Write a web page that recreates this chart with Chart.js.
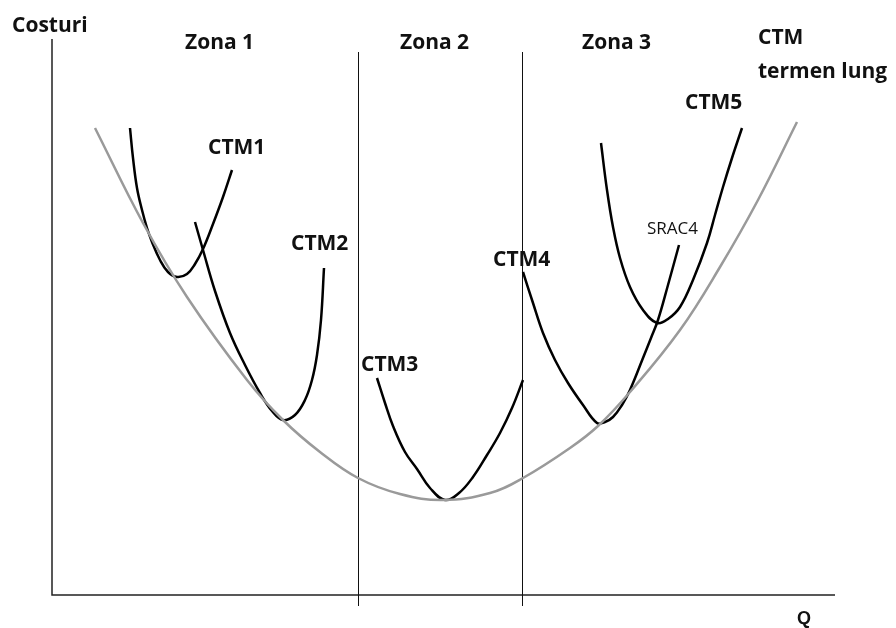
<!DOCTYPE html>
<html>
<head>
<meta charset="utf-8">
<script src="https://cdn.jsdelivr.net/npm/chart.js@4.4.1/dist/chart.umd.min.js"></script>
<style>
  html, body { margin: 0; padding: 0; background: #fff; }
  #wrap { width: 896px; height: 628px; }
</style>
</head>
<body>
<div id="wrap"><canvas id="chart"></canvas></div>
<script>
// Q (quantity) and cost values
var ctmLungQ = [4.3, 9.1, 13.5, 19.5, 23.1, 26.8, 30.6, 34.8, 39.1, 43.8, 47.1, 51.8, 54.6, 57.8, 62.8, 66.8, 70.6, 74.5];
var ctmLungC = [46.7, 37.2, 29.8, 21.5, 17.5, 14.3, 11.7, 10.1, 9.5, 10.2, 11.7, 14.7, 16.9, 20.3, 26.5, 32.8, 39.5, 47.3];

var ctm1Q = [7.8, 8.1, 8.5, 9.0, 9.5, 10.0, 10.8, 11.6, 12.5, 13.5, 14.3, 15.1, 16.1, 17.1, 18.0];
var ctm1C = [46.7, 43.7, 40.7, 38.5, 36.7, 35.3, 33.5, 32.3, 31.8, 32.1, 33.1, 34.6, 37.1, 39.8, 42.5];

var ctm2Q = [14.3, 15.1, 16.3, 17.8, 19.3, 20.8, 22.0, 23.1, 24.3, 25.3, 26.0, 26.5, 26.9, 27.2];
var ctm2C = [37.3, 34.5, 30.4, 26.2, 23.0, 20.2, 18.4, 17.5, 18.0, 19.5, 21.5, 24.0, 27.5, 32.7];

var ctm3Q = [32.5, 33.3, 34.1, 35.3, 36.5, 37.8, 39.3, 40.7, 42.1, 43.5, 44.8, 46.0, 47.1];
var ctm3C = [21.7, 19.2, 16.9, 14.3, 12.6, 10.7, 9.5, 10.2, 11.8, 14.0, 16.2, 18.7, 21.5];

// CTM4 continues upward as SRAC4
var ctm4Q = [47.1, 48.1, 49.1, 50.3, 51.6, 53.1, 54.5, 55.3, 56.1, 57.0, 57.8, 59.1, 59.9, 60.6, 61.6, 62.7];
var ctm4C = [32.3, 29.2, 26.2, 23.5, 21.2, 19.0, 17.2, 17.3, 17.8, 19.0, 20.5, 23.7, 25.7, 27.5, 31.0, 35.0];

var ctm5Q = [54.9, 55.5, 56.1, 56.8, 57.8, 59.1, 60.5, 61.6, 62.8, 64.1, 65.5, 66.3, 67.1, 68.0, 69.0];
var ctm5C = [45.2, 40.5, 36.8, 33.7, 30.8, 28.5, 27.2, 27.6, 28.8, 31.5, 35.2, 38.0, 40.8, 43.7, 46.7];

var zoneBounds = [30.6, 47.0];

function pts(q, c) {
  return q.map(function (v, i) { return { x: v, y: c[i] }; });
}

function curve(q, c, color) {
  return {
    data: pts(q, c),
    borderColor: color,
    borderWidth: 2.5,
    pointRadius: 0,
    fill: false,
    tension: 0.4
  };
}

// axes, zone lines and texts
var decor = {
  id: 'decor',
  beforeDatasetsDraw: function (chart) {
    var ctx = chart.ctx;
    var x = chart.scales.x, y = chart.scales.y;
    ctx.save();
    ctx.strokeStyle = '#222';
    ctx.lineWidth = 1.5;
    ctx.beginPath();
    ctx.moveTo(x.getPixelForValue(0), y.getPixelForValue(55.6));
    ctx.lineTo(x.getPixelForValue(0), y.getPixelForValue(0));
    ctx.lineTo(x.getPixelForValue(78.3), y.getPixelForValue(0));
    ctx.stroke();
    ctx.lineWidth = 1;
    ctx.strokeStyle = '#111';
    zoneBounds.forEach(function (b) {
      var px = Math.round(x.getPixelForValue(b)) + 0.5;
      ctx.beginPath();
      ctx.moveTo(px, y.getPixelForValue(54.3));
      ctx.lineTo(px, y.getPixelForValue(-1.1));
      ctx.stroke();
    });
    ctx.restore();
  },
  afterDatasetsDraw: function (chart) {
    var ctx = chart.ctx;
    var x = chart.scales.x, y = chart.scales.y;
    var bold = 'bold 21px "Open Sans"';
    var texts = [
      ['Costuri', -4.0, 56.9, bold],
      ['Zona 1', 13.3, 55.2, bold],
      ['Zona 2', 34.8, 55.2, bold],
      ['Zona 3', 53.0, 55.2, bold],
      ['CTM', 70.6, 55.7, bold],
      ['termen lung', 70.6, 52.3, bold],
      ['CTM5', 63.3, 49.2, bold],
      ['CTM1', 15.6, 44.7, bold],
      ['CTM2', 23.9, 35.1, bold],
      ['CTM3', 30.9, 23.0, bold],
      ['CTM4', 44.1, 33.5, bold],
      ['SRAC4', 59.5, 36.6, '17px "Open Sans"'],
      ['Q', 74.5, -2.4, 'bold 18px "Liberation Sans"']
    ];
    ctx.save();
    ctx.fillStyle = '#111';
    ctx.textAlign = 'left';
    ctx.textBaseline = 'middle';
    texts.forEach(function (t) {
      ctx.font = t[3];
      ctx.fillText(t[0], x.getPixelForValue(t[1]), y.getPixelForValue(t[2]));
    });
    ctx.restore();
  }
};

new Chart(document.getElementById('chart'), {
  type: 'line',
  data: {
    datasets: [
      curve(ctmLungQ, ctmLungC, '#9a9a9a'),
      curve(ctm1Q, ctm1C, '#000'),
      curve(ctm2Q, ctm2C, '#000'),
      curve(ctm3Q, ctm3C, '#000'),
      curve(ctm4Q, ctm4C, '#000'),
      curve(ctm5Q, ctm5C, '#000')
    ]
  },
  options: {
    responsive: true,
    maintainAspectRatio: false,
    animation: false,
    layout: { padding: 0 },
    plugins: {
      legend: { display: false },
      tooltip: { enabled: false }
    },
    scales: {
      x: { type: 'linear', min: -5.2, max: 84.4, display: false },
      y: { type: 'linear', min: -3.3, max: 59.5, display: false }
    }
  },
  plugins: [decor]
});
</script>
</body>
</html>
